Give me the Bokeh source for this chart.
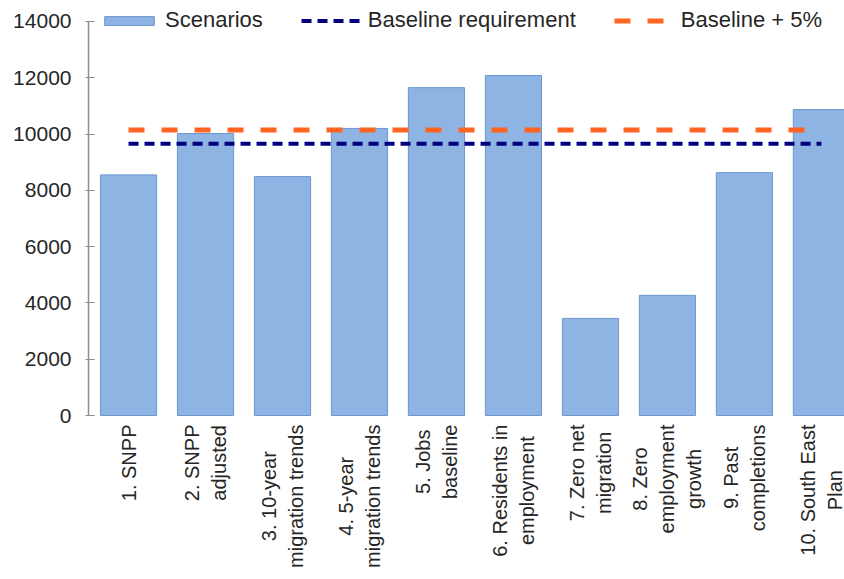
from math import pi
from bokeh.plotting import figure
from bokeh.models import Range1d, FixedTicker, Legend, LegendItem, ColumnDataSource
from bokeh.core.properties import value
from bokeh.embed import file_html
from bokeh.resources import INLINE

# ---- data ----
categories = [
    "1. SNPP",
    "2. SNPP\nadjusted",
    "3. 10-year\nmigration trends",
    "4. 5-year\nmigration trends",
    "5. Jobs\nbaseline",
    "6. Residents in\nemployment",
    "7. Zero net\nmigration",
    "8. Zero\nemployment\ngrowth",
    "9. Past\ncompletions",
    "10. South East\nPlan",
]
scenarios = [8550, 10020, 8490, 10200, 11650, 12080, 3450, 4270, 8630, 10870]
baseline_requirement = 9660
baseline_plus_5 = 10145
y_ticks = [0, 2000, 4000, 6000, 8000, 10000, 12000, 14000]

FONT = "Liberation Sans"
TEXT = "#262626"
LABEL_PX = 20
LINE_GAP = 27      # px between lines of a wrapped category label
LABEL_PAD = 9      # px between the zero line and the labels

W, H = 844, 579
BORDER_L, BORDER_T = 88, 4
X0, X1 = -0.52, 9.30
Y0, Y1 = -5827, 14604
x_per_px = (X1 - X0) / (W - BORDER_L)
y_per_px = (Y1 - Y0) / (H - BORDER_T)

# Arial / Liberation Sans advance widths (1/1000 em) to centre label lines
_W = {" ": 278, ".": 278, "-": 333, "E": 667, "J": 500, "N": 722, "P": 667,
      "R": 722, "S": 667, "Z": 611, "a": 556, "b": 556, "c": 500, "d": 556,
      "e": 556, "g": 556, "h": 556, "i": 222, "j": 222, "l": 222, "m": 833,
      "n": 556, "o": 556, "p": 556, "r": 333, "s": 500, "t": 278, "u": 556,
      "w": 722, "y": 500}


def text_px(s):
    return sum(_W.get(ch, 556) for ch in s) * LABEL_PX / 1000.0


idx = list(range(len(categories)))
src = ColumnDataSource(dict(x=idx, top=scenarios))

# one text item per label line; line ends placed so lines are centred on each other
lx, ly, ltext = [], [], []
for i, c in zip(idx, categories):
    lines = c.split("\n")
    maxw = max(text_px(s) for s in lines)
    n = len(lines)
    for k, s in enumerate(lines):
        lx.append(i + (k - (n - 1) / 2) * LINE_GAP * x_per_px)
        ly.append(-(LABEL_PAD + (maxw - text_px(s)) / 2) * y_per_px)
        ltext.append(s)
lab_src = ColumnDataSource(dict(x=lx, y=ly, text=ltext))

p = figure(width=W, height=H, output_backend="svg", toolbar_location=None,
           x_range=Range1d(X0, X1), y_range=Range1d(Y0, Y1),
           min_border_left=BORDER_L, min_border_right=0, min_border_top=BORDER_T,
           min_border_bottom=0)
p.outline_line_color = None
p.background_fill_color = "white"
p.border_fill_color = "white"
p.xgrid.visible = False
p.ygrid.visible = False
p.xaxis.visible = False

bars = p.vbar(x="x", top="top", width=0.73, bottom=0, source=src,
              fill_color="#8DB4E2", line_color="#6C97D0", line_width=1)

xs_line = [idx[0], idx[-1]]
l1 = p.line(xs_line, [baseline_requirement] * 2, line_color="#000080",
            line_width=4, line_dash="10 6")
l2 = p.line(xs_line, [baseline_plus_5] * 2, line_color="#FF6422",
            line_width=5, line_dash="16 17")

p.text(x="x", y="y", text="text", source=lab_src, angle=pi / 2,
       anchor="center_right", text_align="right", text_baseline="middle",
       text_font=value(FONT), text_font_size=f"{LABEL_PX}px", text_color=TEXT)

# y axis
ya = p.yaxis[0]
ya.bounds = (y_ticks[0], y_ticks[-1])
ya.ticker = FixedTicker(ticks=y_ticks)
ya.axis_line_color = "#8C8C8C"
ya.axis_line_width = 1.5
ya.major_tick_line_color = "#8C8C8C"
ya.major_tick_out = 3
ya.major_tick_in = 6
ya.minor_tick_line_color = None
ya.major_label_text_font = FONT
ya.major_label_text_font_size = "21px"
ya.major_label_text_color = TEXT
ya.major_label_standoff = 14

legend = Legend(items=[
    LegendItem(label="Scenarios", renderers=[bars]),
    LegendItem(label="Baseline requirement", renderers=[l1]),
    LegendItem(label="Baseline + 5%", renderers=[l2]),
], orientation="horizontal", location=(10, 546))
legend.glyph_width = 62
legend.glyph_height = 11
legend.label_standoff = 5
legend.spacing = 38
legend.padding = 0
legend.margin = 0
legend.border_line_color = None
legend.background_fill_alpha = 0
legend.label_text_font = FONT
legend.label_text_font_size = "22px"
legend.label_text_color = TEXT
legend.label_height = 20
p.add_layout(legend)

open("out.html", "w").write(file_html(p, INLINE))
